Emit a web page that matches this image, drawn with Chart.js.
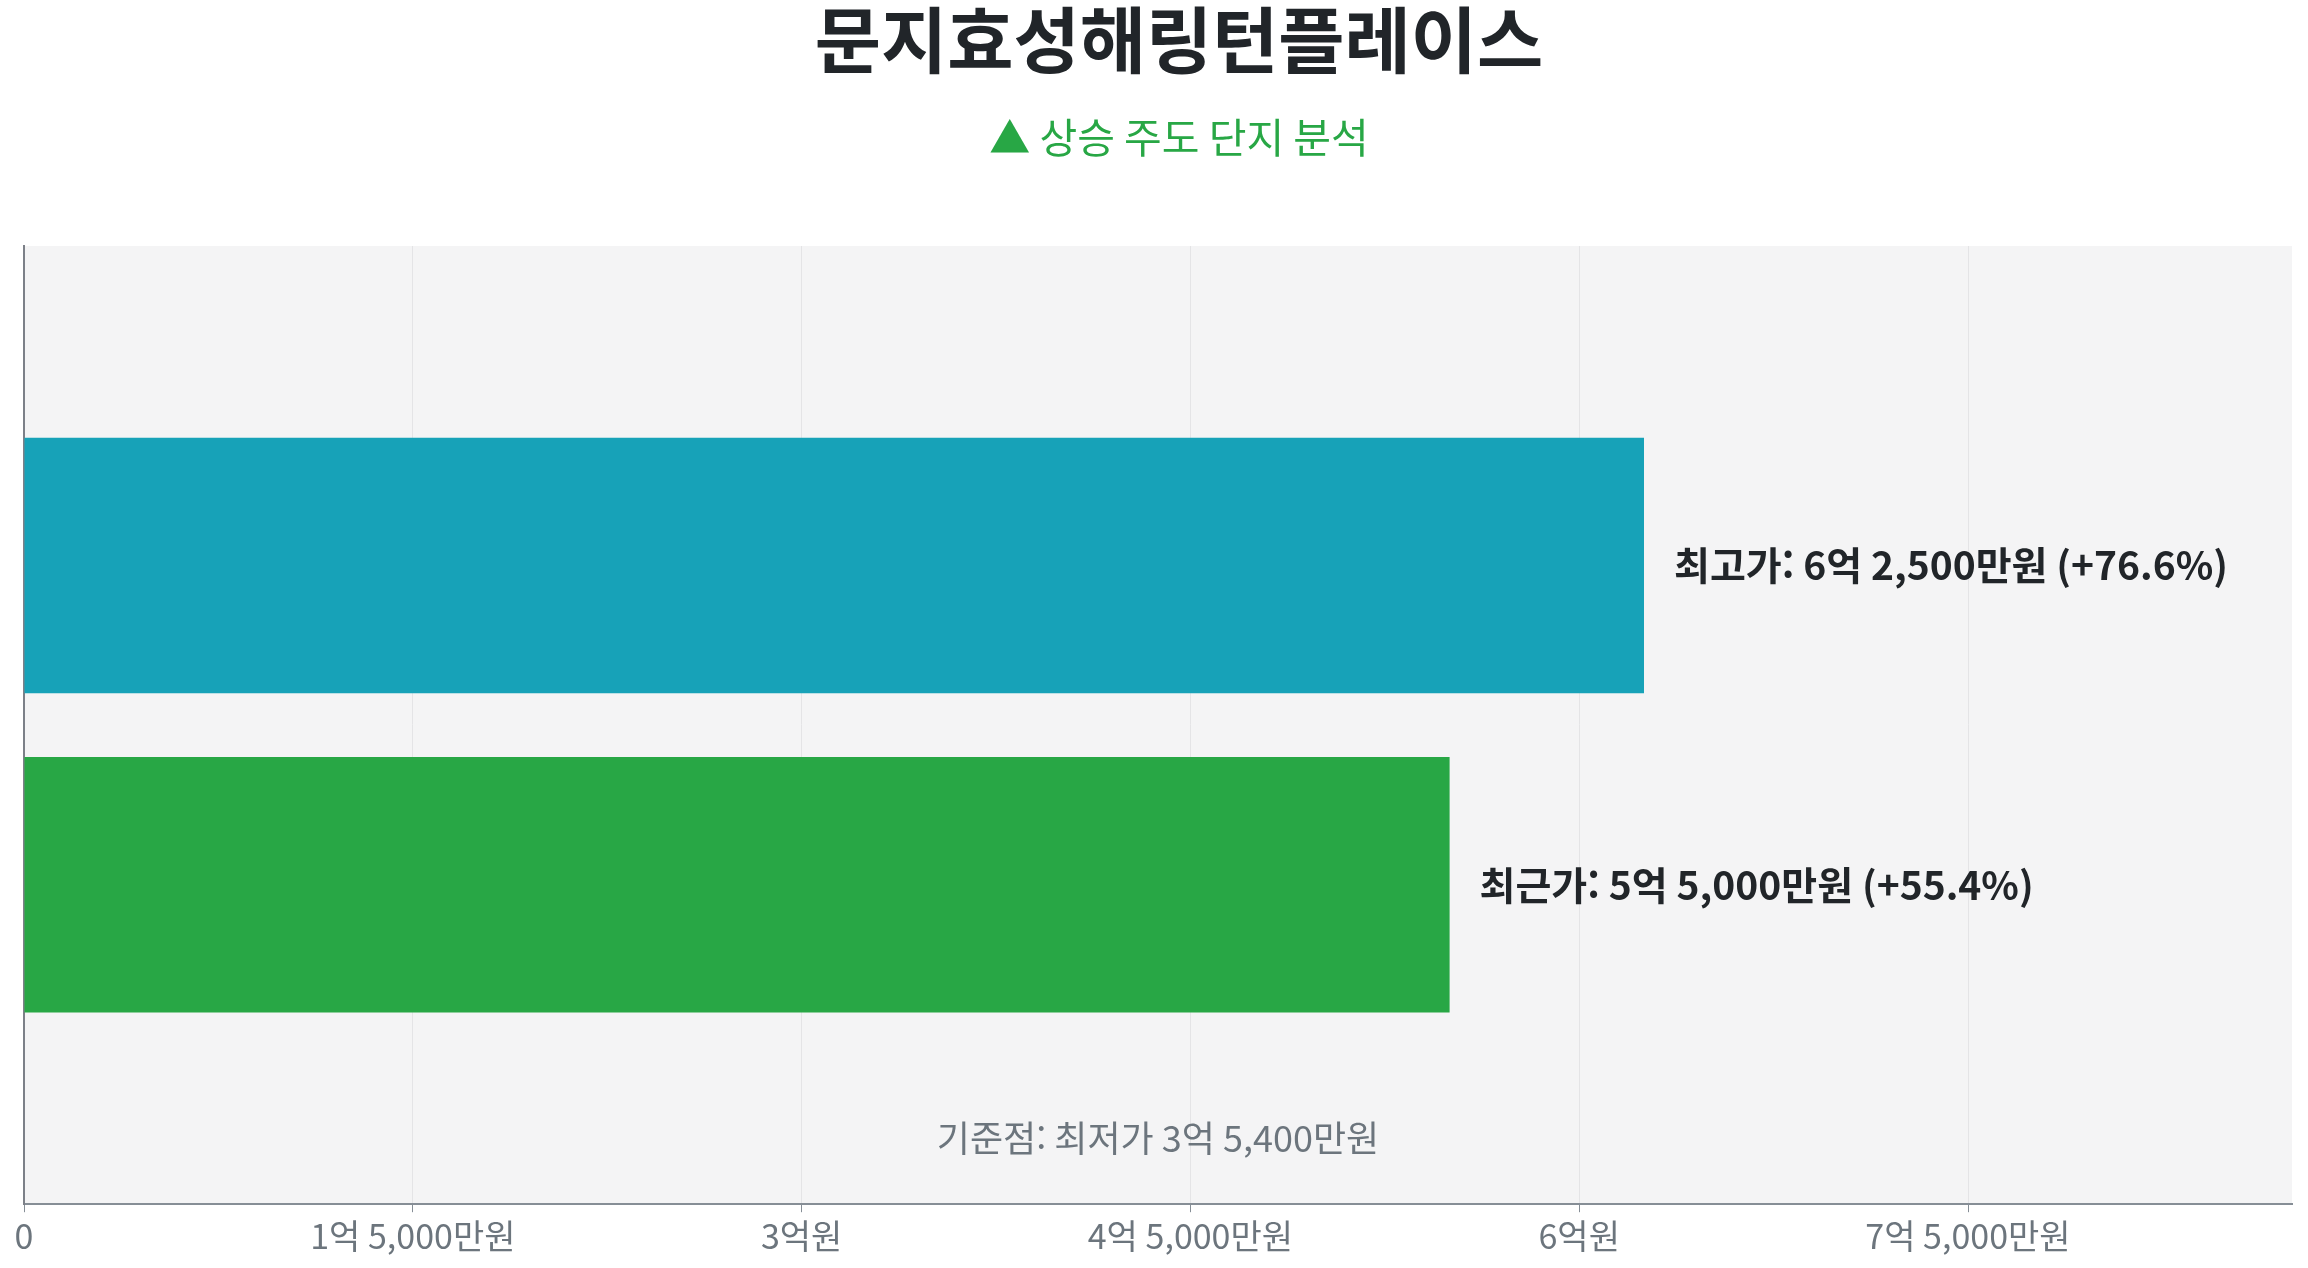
<!DOCTYPE html>
<html lang="ko">
<head>
<meta charset="utf-8">
<script src="https://cdn.jsdelivr.net/npm/chart.js@4.4.1/dist/chart.umd.min.js"></script>
<style>
  html, body { margin: 0; padding: 0; background: #ffffff; }
  #wrap { width: 2308px; height: 1268px; position: relative; }
  canvas { display: block; }
</style>
</head>
<body>
<div id="wrap"><canvas id="c" width="2308" height="1268"></canvas></div>
<script>
// ---- data ----
const titleText = '문지효성해링턴플레이스';
const subtitleText = '▲ 상승 주도 단지 분석';
const categories = ['최고가', '최근가'];
const values = [625000000, 550000000];
const barColors = ['#17a2b8', '#28a745'];
const baselineLabel = '기준점: 최저가';
const baselineValue = 354000000;
const axisMax = 875000000;
const tickValues = [0, 150000000, 300000000, 450000000, 600000000, 750000000];

const FONT = "'Noto Sans CJK KR', 'Noto Sans', sans-serif";

function fmtWon(v) {
  if (v === 0) return '0';
  const eok = Math.floor(v / 100000000);
  const man = Math.round((v % 100000000) / 10000);
  if (man === 0) return eok + '억원';
  if (eok === 0) return man.toLocaleString('en-US') + '만원';
  return eok + '억 ' + man.toLocaleString('en-US') + '만원';
}

// pad categories with empty slots above and below
const labels = [''].concat(categories, ['']);
const dataPadded = [null].concat(values, [null]);
const colorsPadded = ['rgba(0,0,0,0)'].concat(barColors, ['rgba(0,0,0,0)']);

const plotBg = {
  id: 'plotBg',
  beforeDraw(chart) {
    const { ctx, chartArea: a } = chart;
    ctx.save();
    ctx.fillStyle = '#f4f4f5';
    ctx.fillRect(a.left, a.top, a.right - a.left, a.bottom - a.top);
    ctx.restore();
  }
};

const headings = {
  id: 'headings',
  afterDraw(chart) {
    const { ctx } = chart;
    ctx.save();
    ctx.textAlign = 'center';
    ctx.textBaseline = 'middle';
    ctx.fillStyle = '#212529';
    ctx.font = 'bold 72px ' + FONT;
    ctx.fillText(titleText, 1179, 40);
    ctx.fillStyle = '#28a745';
    ctx.font = '41px ' + FONT;
    ctx.fillText(subtitleText, 1179, 137);
    ctx.restore();
  }
};

const barLabels = {
  id: 'barLabels',
  afterDatasetsDraw(chart) {
    const { ctx, chartArea: a } = chart;
    const meta = chart.getDatasetMeta(0);
    ctx.save();
    ctx.font = 'bold 39px ' + FONT;
    ctx.fillStyle = '#212529';
    ctx.textAlign = 'left';
    ctx.textBaseline = 'middle';
    meta.data.forEach((bar, i) => {
      const v = dataPadded[i];
      if (v == null) return;
      const pct = ((v - baselineValue) / baselineValue * 100).toFixed(1);
      const txt = labels[i] + ': ' + fmtWon(v) + ' (+' + pct + '%)';
      ctx.fillText(txt, bar.x + 30, bar.y);
    });
    // baseline note
    ctx.font = '36px ' + FONT;
    ctx.fillStyle = '#6c757d';
    ctx.textAlign = 'center';
    ctx.fillText(baselineLabel + ' ' + fmtWon(baselineValue), (a.left + a.right) / 2, a.bottom - 66);
    ctx.restore();
  }
};

new Chart(document.getElementById('c'), {
  type: 'bar',
  data: {
    labels: labels,
    datasets: [{
      data: dataPadded,
      backgroundColor: colorsPadded,
      borderWidth: 0,
      categoryPercentage: 0.8,
      barPercentage: 1.0
    }]
  },
  plugins: [plotBg, barLabels, headings],
  options: {
    indexAxis: 'y',
    responsive: false,
    animation: false,
    devicePixelRatio: 1,
    layout: { padding: { left: 24, right: 16, top: 246, bottom: 9 } },
    plugins: {
      legend: { display: false },
      tooltip: { enabled: false },
      title: { display: false },
      subtitle: { display: false }
    },
    scales: {
      x: {
        type: 'linear',
        min: 0,
        max: axisMax,
        afterBuildTicks: (scale) => {
          scale.ticks = tickValues.map(v => ({ value: v }));
        },
        border: { display: true, color: '#868e96', width: 2 },
        grid: { color: '#e4e4e6', lineWidth: 1, tickColor: '#868e96', tickLength: 8, drawTicks: true },
        ticks: {
          color: '#6c757d',
          font: { family: FONT, size: 34 },
          padding: 3,
          maxRotation: 0,
          autoSkip: false,
          callback: (v) => fmtWon(v)
        }
      },
      y: {
        type: 'category',
        offset: false,
        border: { display: true, color: '#7c8088', width: 2 },
        grid: { display: false, drawTicks: false },
        ticks: { display: false }
      }
    }
  }
});
</script>
</body>
</html>
